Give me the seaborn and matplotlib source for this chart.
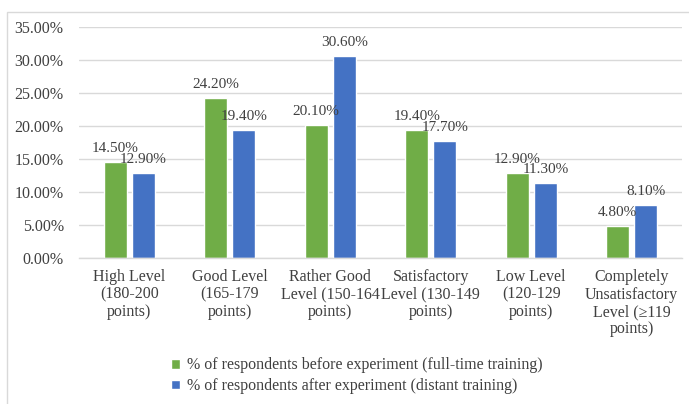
import matplotlib
matplotlib.use("Agg")
import matplotlib.pyplot as plt
import seaborn as sns
import pandas as pd
from matplotlib.patches import Rectangle
from matplotlib.ticker import PercentFormatter

categories = ["High Level\n(180-200\npoints)", "Good Level\n(165-179\npoints)",
              "Rather Good\nLevel (150-164\npoints)", "Satisfactory\nLevel (130-149\npoints)",
              "Low Level\n(120-129\npoints)", "Completely\nUnsatisfactory\nLevel (\u2265119\npoints)"]
series_names = ["% of respondents before experiment (full-time training)",
                "% of respondents after experiment (distant training)"]
before = [14.5, 24.2, 20.1, 19.4, 12.9, 4.8]
after = [12.9, 19.4, 30.6, 17.7, 11.3, 8.1]
colors = ["#70AD47", "#4472C4"]

df = pd.DataFrame({
    "category": categories * 2,
    "series": [series_names[0]] * 6 + [series_names[1]] * 6,
    "value": [v / 100 for v in before + after],
})

sns.set_style("white")
plt.rcParams["font.family"] = ["Liberation Serif", "DejaVu Serif"]
FS = 11.5

fig = plt.figure(figsize=(6.89, 4.04), dpi=100)
ax = fig.add_axes([79 / 689, 1 - 258 / 404, (682 - 79) / 689, (258 - 27) / 404])

sns.barplot(data=df, x="category", y="value", hue="series", palette=colors,
            width=0.56, gap=0.18, ax=ax, legend=True, saturation=1)

ax.set_ylim(0, 0.35)
ax.set_yticks([i * 0.05 for i in range(8)])
ax.yaxis.set_major_formatter(PercentFormatter(1.0, decimals=2))
ax.grid(axis="y", color="#D9D9D9", linewidth=1)
ax.set_axisbelow(True)
for s in ["left", "right", "top"]:
    ax.spines[s].set_visible(False)
ax.spines["bottom"].set_color("#D9D9D9")
ax.spines["bottom"].set_linewidth(1)
ax.tick_params(axis="both", length=0, labelsize=FS, colors="#404040")
ax.tick_params(axis="x", pad=8)
ax.tick_params(axis="y", pad=11)
ax.set_xlabel("")
ax.set_ylabel("")
for lbl in ax.get_xticklabels():
    lbl.set_linespacing(1.12)

for cont in ax.containers:
    ax.bar_label(cont, labels=[f"{b.get_height() * 100:.2f}%" for b in cont],
                 fontsize=11, color="#404040", padding=5)

h, l = ax.get_legend_handles_labels()
ax.legend_.remove()
fig.legend(h, l, loc="upper left", bbox_to_anchor=(157 / 689, 1 - 343 / 404),
           frameon=False, fontsize=FS, handlelength=0.55, handleheight=0.55,
           handletextpad=0.45, labelspacing=0.3, labelcolor="#404040")

fig.patches.append(Rectangle((7 / 689, -0.1), 1.1, 1 - 12 / 404 + 0.1,
                             transform=fig.transFigure, fill=False,
                             edgecolor="#D9D9D9", linewidth=1))

fig.savefig("out.png", dpi=100)
